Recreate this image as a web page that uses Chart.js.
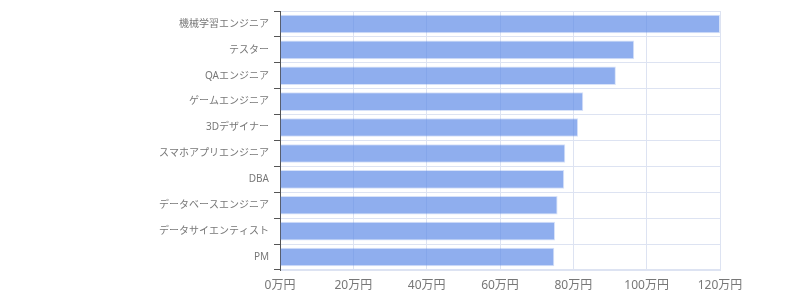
<!DOCTYPE html>
<html>
<head>
<meta charset="utf-8">
<script src="https://cdn.jsdelivr.net/npm/chart.js@4/dist/chart.umd.min.js"></script>
<style>
  html, body { margin: 0; padding: 0; background: #fff; }
  #wrap { width: 800px; height: 300px; }
</style>
</head>
<body>
<div id="wrap"><canvas id="salaryChart"></canvas></div>
<script>
// 職種ごとの平均年収（万円）
const jobs = ['機械学習エンジニア', 'テスター', 'QAエンジニア', 'ゲームエンジニア', '3Dデザイナー',
    'スマホアプリエンジニア', 'DBA', 'データベースエンジニア', 'データサイエンティスト', 'PM'];
const salaries = [120, 96.6, 91.6, 82.7, 81.3, 77.8, 77.5, 75.7, 75.0, 74.8];
const xTicks = [0, 20, 40, 60, 80, 100, 120];

const font = '"Noto Sans", "Noto Sans CJK JP", sans-serif';

const ctx = document.getElementById('salaryChart').getContext('2d');
new Chart(ctx, {
    type: 'bar',
    data: {
        labels: jobs,
        datasets: [{
            data: salaries,
            backgroundColor: 'rgba(95, 139, 231, 0.7)',
            borderColor: 'rgba(95, 139, 231, 0.25)',
            borderWidth: 1
        }]
    },
    options: {
        indexAxis: 'y',
        responsive: true,
        maintainAspectRatio: false,
        animation: false,
        layout: { padding: { top: 2, right: 80, left: 0, bottom: 0 } },
        plugins: {
            legend: { display: false },
            tooltip: { enabled: false }
        },
        scales: {
            x: {
                min: 0,
                max: 120,
                afterBuildTicks: scale => { scale.ticks = xTicks.map(v => ({ value: v })); },
                afterFit: scale => { scale.height = 30; },
                grid: { color: '#dde3f2', drawTicks: false },
                border: { color: '#dde3f2' },
                ticks: {
                    padding: 8,
                    color: '#777',
                    font: { family: font, size: 12 },
                    callback: v => v + '万円'
                }
            },
            y: {
                afterFit: scale => { scale.width = 280; },
                grid: { color: '#dde3f2', tickColor: '#555', tickLength: 6 },
                border: { color: '#555' },
                ticks: {
                    padding: 5,
                    color: '#777',
                    font: { family: font, size: 10 }
                }
            }
        }
    }
});
</script>
</body>
</html>
